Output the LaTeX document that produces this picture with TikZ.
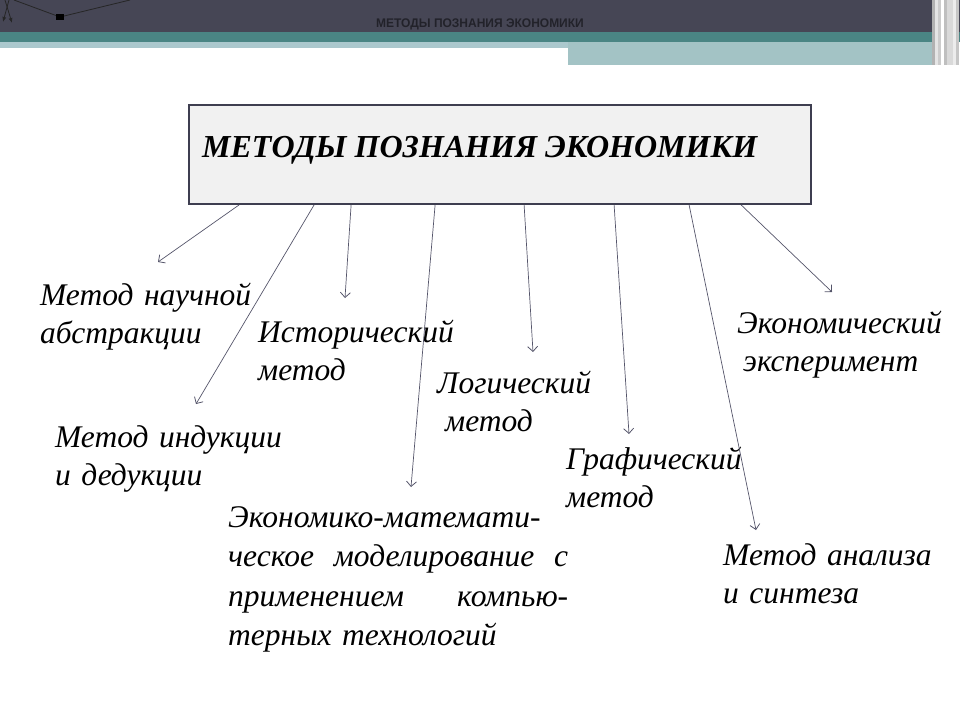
\documentclass[tikz,border=0pt]{standalone}
\usepackage{fontspec}
\setmainfont{Liberation Serif}
\newfontfamily\hdrfont{Liberation Sans}
\usetikzlibrary{arrows.meta}
\definecolor{darkband}{HTML}{464655}
\definecolor{tealband}{HTML}{4A8584}
\definecolor{lightteal}{HTML}{A3C3C5}
\definecolor{paleband}{HTML}{ABC8CD}
\definecolor{boxline}{HTML}{3E3E50}
\definecolor{boxfill}{HTML}{F1F1F1}
\definecolor{arrowc}{HTML}{55556A}
\definecolor{hdrtext}{HTML}{22222A}
\tikzset{
  lab/.style={anchor=base west, inner sep=0pt, text width=#1, align=left,
    font=\fontsize{31.5}{38.5}\selectfont\itshape},
  lab/.default=330pt,
  conn/.style={draw=arrowc, line width=0.7pt, -{Straight Barb[length=5pt,width=10pt,line width=0.8pt]}},
}
\begin{document}
\begin{tikzpicture}[x=1pt,y=-1pt]
\useasboundingbox (0,0) rectangle (960,720);
% header bands
\fill[darkband] (0,0) rectangle (960,32);
\fill[tealband] (0,32) rectangle (960,42);
\fill[paleband] (0,42) rectangle (568,48);
\fill[lightteal] (568,42) rectangle (932,65);
\foreach \x/\c in {932/gray!60,935/white!80!gray,938/gray!40,941/white,944/gray!50,947/white!70!gray,950/gray!30,953/white!85!gray,956/gray!45}
  \fill[\c] (\x,0) rectangle (\x+3,65);
% top-left decoration
\draw[black!85, line width=0.8pt] (14,0) -- (60,17) -- (130,0);
\fill[black] (56,14) rectangle (64,20);
\draw[black!85, line width=0.8pt,-{Latex[length=5pt,width=4pt]}] (9,0) -- (3,22);
\draw[black!85, line width=0.8pt,-{Latex[length=5pt,width=4pt]}] (5,0) -- (12,23);
\node[inner sep=0pt, text=hdrtext] (hdr) at (480,24)
  {\hdrfont\bfseries\fontsize{12.5}{14}\selectfont\scalebox{0.96}[1]{МЕТОДЫ ПОЗНАНИЯ ЭКОНОМИКИ}};
% main box
\node[draw=boxline, line width=1.8pt, fill=boxfill, minimum width=622pt, minimum height=99pt,
  inner sep=0pt] (box) at (500,154.5) {};
\node[anchor=base west, inner sep=0pt, font=\fontsize{32}{36}\selectfont\bfseries\itshape] (title)
  at (202,157) {МЕТОДЫ ПОЗНАНИЯ ЭКОНОМИКИ};
% labels
\node[lab] (l1) at (40,305) {Метод научной\\абстракции};
\node[lab] (l2) at (258,342) {Исторический\\метод};
\node[lab] (l3) at (55,447) {Метод индукции\\и дедукции};
\node[lab] (l4) at (437,393) {Логический\\\hspace*{8pt}метод};
\node[lab] (l5) at (737,333) {Экономический\\\hspace*{6pt}эксперимент};
\node[lab] (l6) at (566,469) {Графический\\метод};
\node[anchor=base west, inner sep=0pt, text width=340pt, align=left,
  font=\fontsize{31.5}{39.5}\selectfont\itshape] (l7) at (228,527)
  {Экономико-математи-\\ческое\hfill моделирование\hfill с\\применением\hfill компью-\\терных технологий};
\node[lab] (l8) at (723,565) {Метод анализа\\и синтеза};
% arrow ends
\coordinate (e1) at (158,262);
\coordinate (e2) at (196,404);
\coordinate (e3) at (345,298);
\coordinate (e4) at (411,487);
\coordinate (e5) at (533,352);
\coordinate (e6) at (629,434);
\coordinate (e7) at (756,530);
\coordinate (e8) at (832,292);
\draw[conn] ([xshift=51pt]box.south west) -- (e1);
\draw[conn] ([xshift=126pt]box.south west) -- (e2);
\draw[conn] ([xshift=163pt]box.south west) -- (e3);
\draw[conn] ([xshift=247pt]box.south west) -- (e4);
\draw[conn] ([xshift=336pt]box.south west) -- (e5);
\draw[conn] ([xshift=426pt]box.south west) -- (e6);
\draw[conn] ([xshift=501pt]box.south west) -- (e7);
\draw[conn] ([xshift=553pt]box.south west) -- (e8);
\end{tikzpicture}
\end{document}
